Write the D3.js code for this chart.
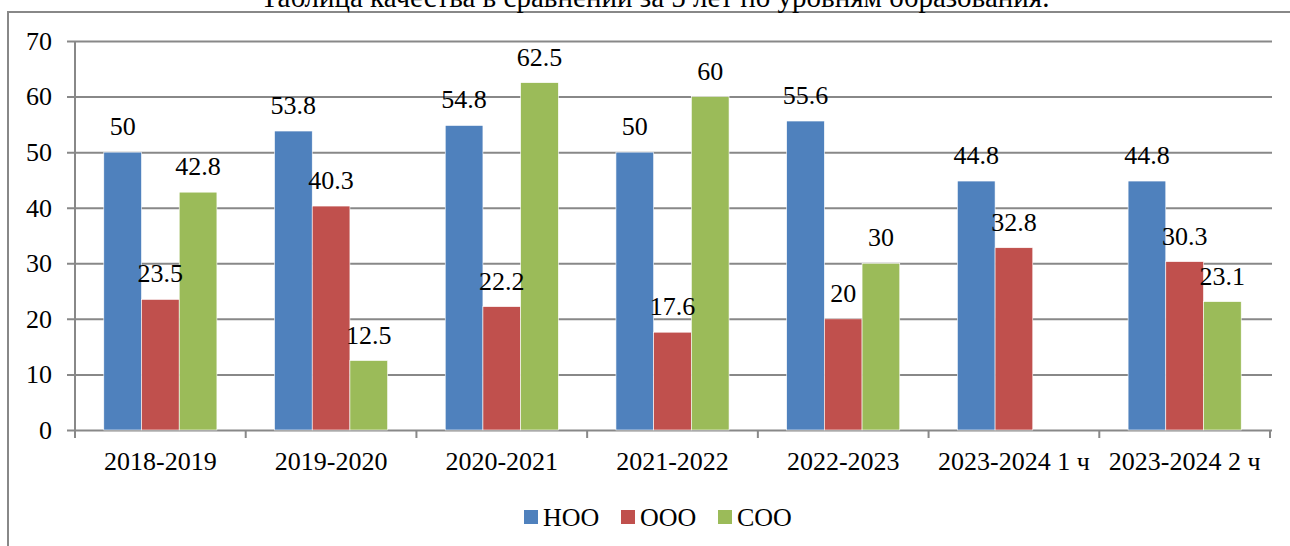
<!DOCTYPE html>
<html>
<head>
<meta charset="utf-8">
<script src="https://cdn.jsdelivr.net/npm/d3@7"></script>
<style>
  body { margin: 0; background: #fff; }
</style>
</head>
<body>
<svg id="chart" width="1290" height="546"></svg>
<script>
const categories = ['2018-2019', '2019-2020', '2020-2021', '2021-2022', '2022-2023', '2023-2024 1 ч', '2023-2024 2 ч'];
const seriesNames = ['НОО', 'ООО', 'СОО'];
const nooValues = [50, 53.8, 54.8, 50, 55.6, 44.8, 44.8];
const oooValues = [23.5, 40.3, 22.2, 17.6, 20, 32.8, 30.3];
const sooValues = [42.8, 12.5, 62.5, 60, 30, null, 23.1];
const yTicks = [0, 10, 20, 30, 40, 50, 60, 70];
const titleText = 'Таблица качества в сравнении за 5 лет по уровням образования.';

const colors = ['#4F81BD', '#C0504D', '#9BBB59'];
const gridColor = '#888888';
const fontFamily = '"Liberation Serif"';
const fontSize = '26px';

const svg = d3.select('#chart');

// outer chart frame (only top and left edges are visible in the crop)
svg.append('path')
  .attr('d', 'M8,546V12H1290')
  .attr('fill', 'none')
  .attr('stroke', gridColor)
  .attr('stroke-width', 2);

const plot = { left: 75, right: 1270, top: 41, bottom: 430 };

const x = d3.scaleBand()
  .domain(categories)
  .range([plot.left, plot.right]);

const x1 = d3.scaleBand()
  .domain(seriesNames)
  .range([0, x.bandwidth()])
  .paddingOuter(0.764);

const y = d3.scaleLinear()
  .domain([0, 70])
  .range([plot.bottom, plot.top]);

// gridlines + y tick labels
const yAxis = svg.append('g')
  .attr('transform', `translate(${plot.left},0)`)
  .call(d3.axisLeft(y)
    .tickValues(yTicks)
    .tickSize(-(plot.right - plot.left + 2))
    .tickSizeOuter(0)
    .tickPadding(0));
yAxis.attr('font-family', null).attr('font-size', null);
yAxis.select('.domain').remove();
yAxis.selectAll('.tick line')
  .attr('x1', -8)
  .attr('stroke', gridColor)
  .attr('stroke-width', 2);
yAxis.selectAll('.tick text')
  .attr('x', -23)
  .attr('fill', '#000');

// y axis line
svg.append('line')
  .attr('x1', plot.left).attr('x2', plot.left)
  .attr('y1', y(70)).attr('y2', y(0))
  .attr('stroke', gridColor)
  .attr('stroke-width', 2);

// x axis ticks at band boundaries
const boundaries = categories.map(c => x(c)).concat([plot.right]);
svg.append('g')
  .selectAll('line')
  .data(boundaries)
  .join('line')
  .attr('x1', d => d).attr('x2', d => d)
  .attr('y1', y(0)).attr('y2', y(0) + 8)
  .attr('stroke', gridColor)
  .attr('stroke-width', 2);

svg.append('g')
  .selectAll('text')
  .data(categories)
  .join('text')
  .attr('x', d => x(d) + x.bandwidth() / 2)
  .attr('y', 470)
  .attr('text-anchor', 'middle')
  .text(d => d);

// bars
const seriesValues = [nooValues, oooValues, sooValues];
const barData = [];
categories.forEach((c, i) => {
  seriesNames.forEach((s, j) => {
    const v = seriesValues[j][i];
    if (v != null) barData.push({ cat: c, series: s, idx: j, value: v });
  });
});

svg.append('g')
  .selectAll('rect')
  .data(barData)
  .join('rect')
  .attr('x', d => x(d.cat) + x1(d.series))
  .attr('y', d => y(d.value))
  .attr('width', x1.bandwidth())
  .attr('height', d => y(0) - y(d.value))
  .attr('fill', d => colors[d.idx])
  .attr('stroke', '#fff')
  .attr('stroke-width', 0.6);

svg.append('g')
  .selectAll('text')
  .data(barData)
  .join('text')
  .attr('x', d => x(d.cat) + x1(d.series) + x1.bandwidth() / 2)
  .attr('y', d => y(d.value) - 17)
  .attr('text-anchor', 'middle')
  .text(d => d.value);

// legend
const legendX = [524, 621, 718];
const legend = svg.append('g')
  .selectAll('g')
  .data(seriesNames)
  .join('g')
  .attr('transform', (d, i) => `translate(${legendX[i]},510)`);
legend.append('rect')
  .attr('width', 14)
  .attr('height', 14)
  .attr('fill', (d, i) => colors[i]);
legend.append('text')
  .attr('x', 19)
  .attr('y', 16)
  .text(d => d);

// one font for every text
svg.selectAll('text')
  .style('font-family', fontFamily)
  .style('font-size', fontSize)
  .style('fill', '#000');

// title, cut off by the top edge as in the source
svg.append('text')
  .attr('x', 655)
  .attr('y', 7)
  .attr('text-anchor', 'middle')
  .style('font-family', fontFamily)
  .style('font-size', '29px')
  .style('fill', '#000')
  .text(titleText);
</script>
</body>
</html>
